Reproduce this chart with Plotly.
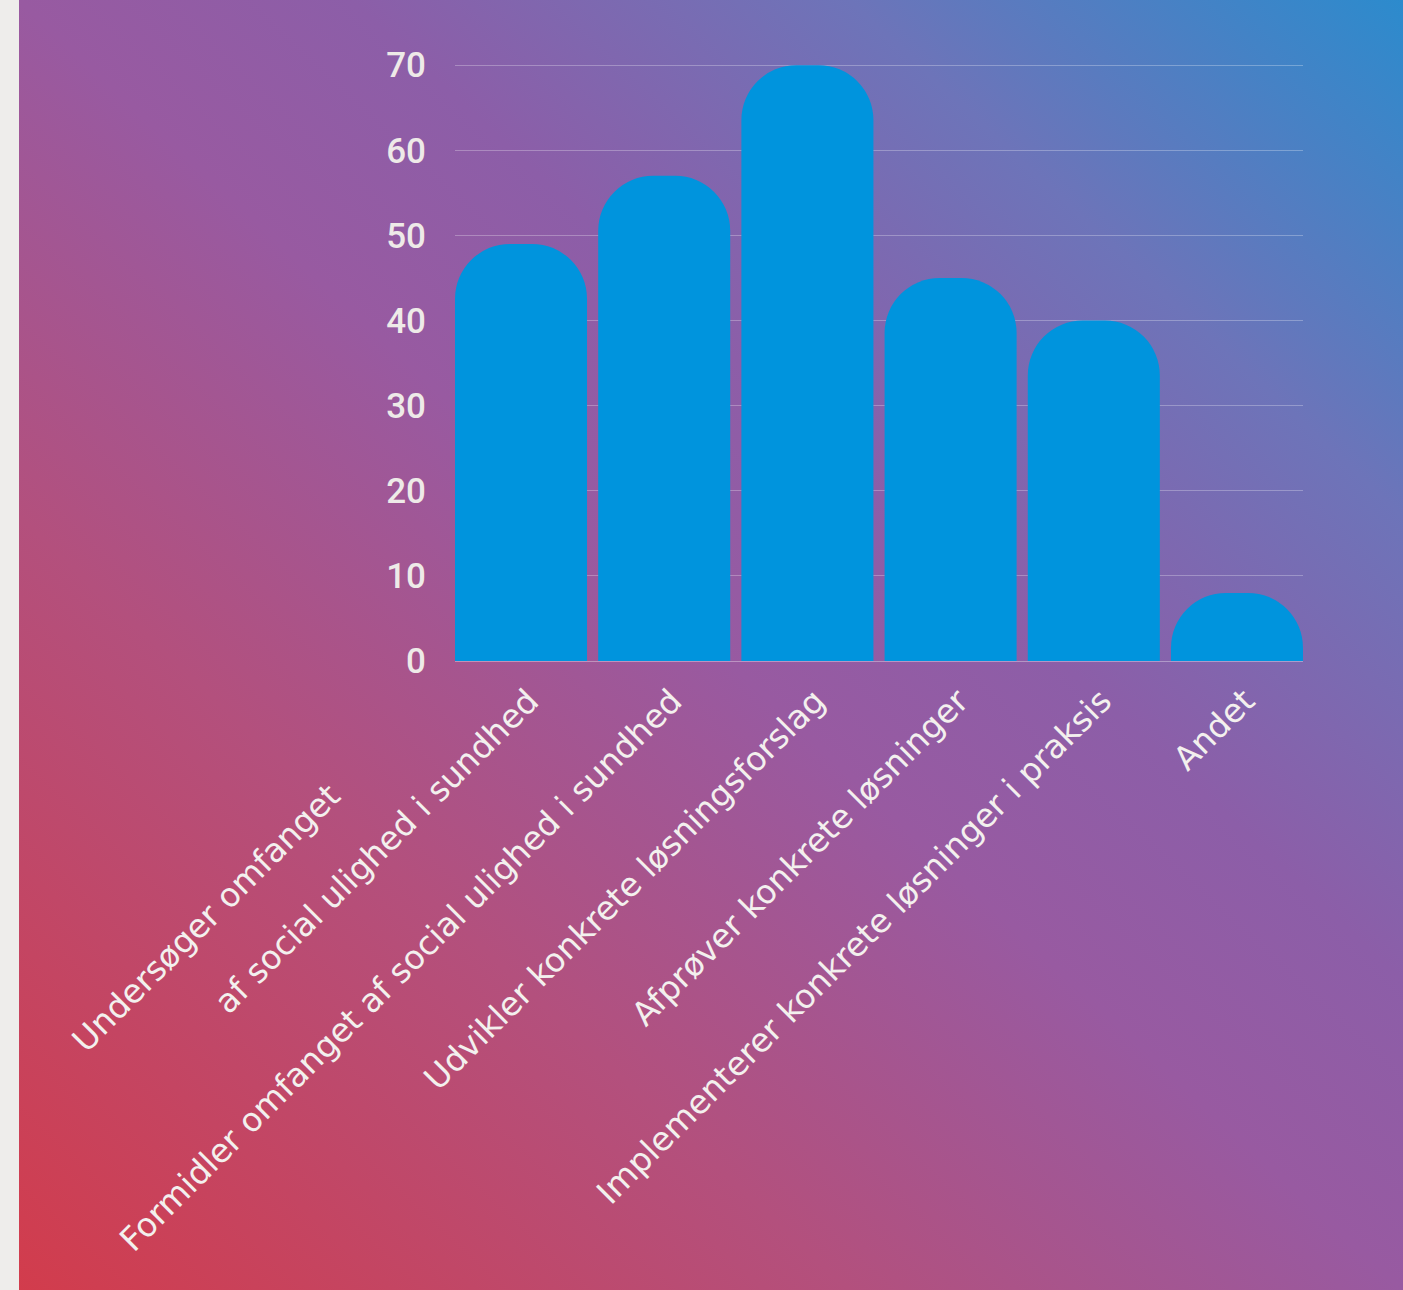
import base64
import plotly.graph_objects as go

# ---- data ----
categories = [
    "af social ulighed i sundhed",
    "Formidler omfanget af social ulighed i sundhed",
    "Udvikler konkrete løsningsforslag",
    "Afprøver konkrete løsninger",
    "Implementerer konkrete løsninger i praksis",
    "Andet",
]
first_label_line1 = "Undersøger omfanget"
values = [49, 57, 70, 45, 40, 8]
y_ticks = [0, 10, 20, 30, 40, 50, 60, 70]

# ---- layout constants ----
W, H = 1403, 1290
ML, MR, MT, MB = 455, 100, 63, 629
PW, PH = W - ML - MR, H - MT - MB
Y_MAX = 70.25          # small headroom so the top gridline is drawn
BARGAP = 0.078
XFONT = dict(family="DejaVu Sans", size=33, color="#F3F0EE")

svg = f"""<svg xmlns='http://www.w3.org/2000/svg' width='{W}' height='{H}' viewBox='0 0 {W} {H}' preserveAspectRatio='none'>
<defs><linearGradient id='g' x1='0' y1='1' x2='1' y2='0'>
<stop offset='0' stop-color='#D23C4C'/>
<stop offset='0.3' stop-color='#B3507D'/>
<stop offset='0.5' stop-color='#985AA1'/>
<stop offset='0.62' stop-color='#8C5EA8'/>
<stop offset='0.8' stop-color='#6D74B9'/>
<stop offset='1' stop-color='#2C8BCD'/>
</linearGradient></defs>
<rect width='{W}' height='{H}' fill='#EEEDEB'/>
<rect x='19' y='0' width='{W-19}' height='{H}' fill='url(#g)'/>
</svg>"""
bg_src = "data:image/svg+xml;base64," + base64.b64encode(svg.encode()).decode()

fig = go.Figure(
    go.Bar(
        x=list(range(len(categories))),
        y=values,
        marker=dict(color="#0094DD", cornerradius="42%", line=dict(width=0)),
        hoverinfo="skip",
    )
)

fig.add_layout_image(
    source=bg_src,
    xref="paper", yref="paper",
    x=-ML / PW, y=1 + MT / PH,
    sizex=W / PW, sizey=H / PH,
    xanchor="left", yanchor="top",
    sizing="stretch", layer="below",
)

# first line of the two-line first category label
fig.add_annotation(
    text=first_label_line1,
    xref="x", yref="paper", x=0, y=0,
    xanchor="right", yanchor="top",
    textangle=-45, showarrow=False,
    xshift=-170, yshift=-112,
    font=XFONT,
)

fig.update_layout(
    width=W, height=H, autosize=False,
    margin=dict(l=ML, r=MR, t=MT, b=MB, pad=0),
    paper_bgcolor="#EEEDEB",
    plot_bgcolor="rgba(0,0,0,0)",
    bargap=BARGAP,
    showlegend=False,
)

fig.update_xaxes(
    range=[-0.5 + BARGAP / 2, len(categories) - 0.5 - BARGAP / 2],
    tickmode="array",
    tickvals=list(range(len(categories))),
    ticktext=categories,
    tickangle=-45,
    showgrid=False, zeroline=False, showline=False,
    ticks="",
    ticklabelstandoff=13,
    ticklabelshift=8,
    tickfont=XFONT,
)

fig.update_yaxes(
    range=[0, Y_MAX],
    tickvals=y_ticks,
    showgrid=True, gridcolor="rgba(255,255,255,0.28)", gridwidth=1,
    zeroline=True, zerolinecolor="rgba(255,255,255,0.35)", zerolinewidth=1,
    showline=False, ticks="",
    ticklabelstandoff=28,
    tickfont=dict(family="Roboto", size=35, weight=500, color="#EEEAE8"),
)

fig.write_html("out.html", config={"displayModeBar": False},
               post_script="document.body.style.margin='0';")
